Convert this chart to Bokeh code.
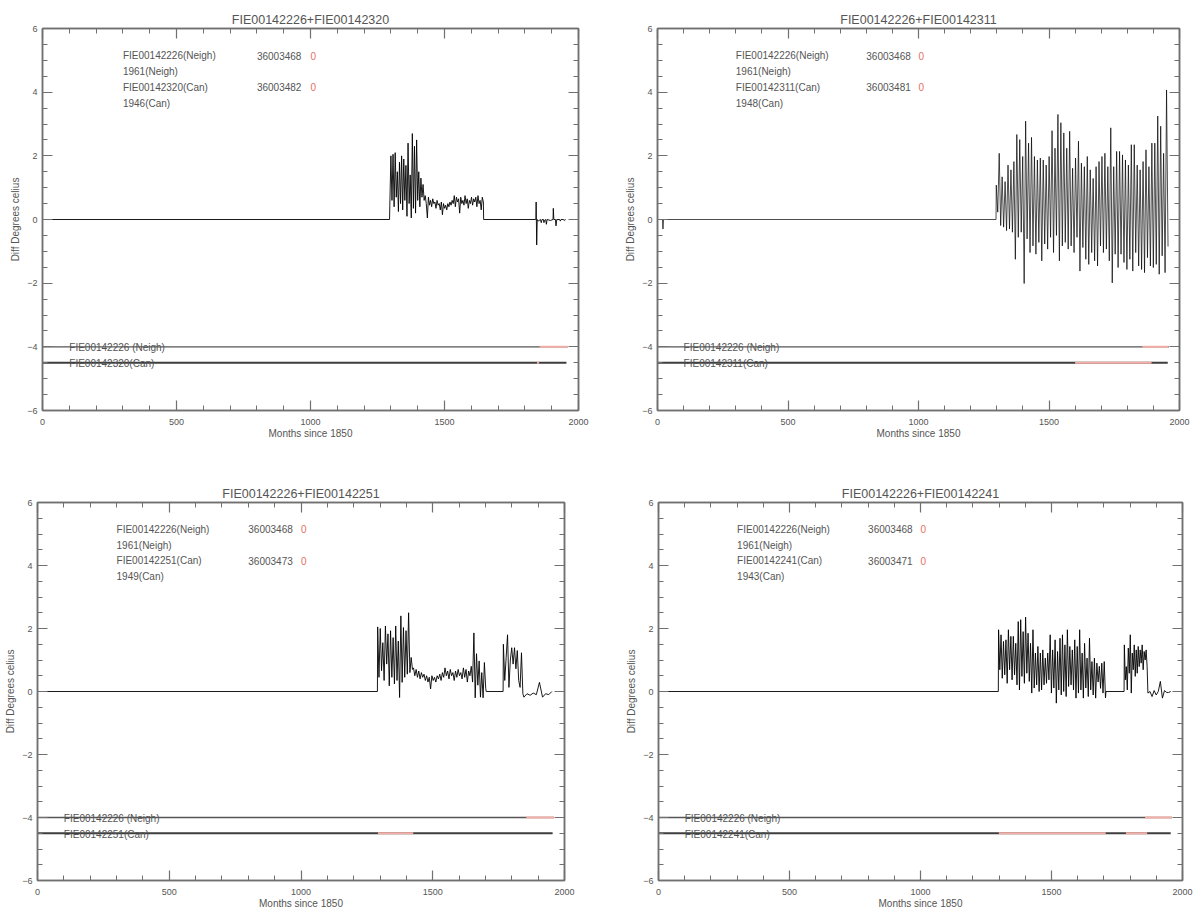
import numpy as np
from bokeh.plotting import figure
from bokeh.models import Range1d, FixedTicker, LinearAxis, ColumnDataSource
from bokeh.layouts import column, row
from bokeh.core.properties import value
from bokeh.embed import file_html
from bokeh.resources import INLINE

# ---------------- data ----------------
x_major = [0, 500, 1000, 1500, 2000]
x_minor = list(range(0, 2001, 100))
y_major = [-6, -4, -2, 0, 2, 4, 6]
y_minor = [k / 2 for k in range(-12, 13)]

neigh_id = "FIE00142226"
neigh_code = "36003468"
neigh_year = "1961"
neigh_flag = "0"
can_ids = ["FIE00142320", "FIE00142311", "FIE00142251", "FIE00142241"]
can_codes = ["36003482", "36003481", "36003473", "36003471"]
can_years = ["1946", "1948", "1949", "1943"]
can_flags = ["0", "0", "0", "0"]

# Panel 1  (FIE00142226+FIE00142320)
p1_spiky = [0.45, 2.0, 0.6, 2.05, 0.4, 2.1, 0.7, 1.5, 0.25, 1.8, 0.5, 2.0, 0.3, 1.9, 0.6, 1.7,
            0.1, 2.4, 0.5, 1.4, 0.05, 2.7, 0.35, 2.3, 0.2, 2.5, 0.6, 1.5, 0.4, 1.3, 0.7, 1.1, 0.6]
p1_band = [0.75, 0.5, 0.05, 0.7, 0.45, 0.6, 0.4, 0.65, 0.5, 0.55, 0.35, 0.6, 0.45, 0.5, 0.3, 0.55,
           0.15, 0.5, 0.35, 0.45, 0.3, 0.5, 0.4, 0.55, 0.45, 0.6, 0.5, 0.75, 0.4, 0.7, 0.55, 0.65,
           0.2, 0.7, 0.5, 0.6, 0.45, 0.75, 0.5, 0.65, 0.35, 0.6, 0.5, 0.7, 0.45, 0.65, 0.55, 0.7,
           0.4, 0.75, 0.5, 0.6, 0.3, 0.7, 0.55]
p1_tail_m = [1841, 1842, 1844, 1846, 1850, 1858, 1861, 1864, 1869, 1871, 1874, 1878, 1880, 1883,
             1895, 1905, 1906, 1908, 1914, 1916, 1919, 1930, 1932, 1935, 1944, 1946, 1952]
p1_tail_v = [0.0, 0.55, -0.8, 0.0, -0.05, 0.0, -0.1, 0.0, 0.0, -0.1, -0.02, 0.0, -0.15, 0.0,
             -0.03, 0.0, 0.35, 0.0, 0.0, -0.2, 0.0, 0.0, -0.05, 0.0, 0.0, -0.03, 0.0]
p1_neigh_red = [(1855, 1960)]
p1_can_red = [(1845, 1853)]

# Panel 2  (FIE00142226+FIE00142311)
p2_dip_m = [0, 19, 21, 23]
p2_dip_v = [0.0, 0.0, -0.3, 0.0]
p2_peaks = [1.08, 2.08, 1.34, 1.19, 1.71, 1.56, 1.82, 2.67, 2.51, 1.98,
            3.09, 2.40, 2.58, 1.98, 1.87, 1.93, 1.87, 1.71, 1.98, 2.79,
            2.24, 3.30, 3.04, 2.72, 2.24, 2.77, 1.61, 1.93, 2.46, 1.77,
            1.66, 1.98, 1.56, 1.29, 1.66, 1.82, 1.98, 2.08, 1.66, 2.88,
            1.66, 2.14, 2.14, 2.03, 1.87, 1.71, 2.35, 2.35, 1.71, 1.56,
            1.82, 2.19, 1.66, 2.40, 2.40, 3.25, 2.93, 2.08, 4.07]
p2_troughs = [0.23, -0.19, -0.24, -0.35, -0.30, -0.40, -1.25, -0.56, -0.40, -2.01,
              -0.61, -1.04, -0.83, -1.09, -0.72, -1.30, -0.77, -0.93, -0.56, -1.04,
              -0.50, -1.30, -0.83, -0.72, -0.93, -0.83, -1.04, -0.56, -1.62, -0.88, -1.25,
              -1.41, -1.04, -1.30, -1.46, -0.83, -1.04, -0.93, -1.30, -1.99, -1.09,
              -1.51, -1.09, -1.35, -1.57, -1.25, -1.62, -1.04, -1.46, -1.57, -1.67,
              -1.20, -1.46, -1.51, -1.41, -1.72, -1.14, -1.67, -0.85]
p2_neigh_red = [(1858, 1958)]
p2_can_red = [(1600, 1893)]

# Panel 3  (FIE00142226+FIE00142251)
p3_spiky = [2.05, 0.45, 2.0, 0.66, 1.55, 0.35, 2.08, 0.87, 1.83, 0.18, 1.93, 0.45, 1.71, 0.24,
            2.08, 0.35, 1.6, -0.19, 2.4, 0.29, 2.03, 0.45, 1.93, 0.55, 2.5, 0.6, 1.08, 0.7]
p3_band = [0.75, 0.5, 0.7, 0.45, 0.65, 0.4, 0.6, 0.45, 0.55, 0.35, 0.5, 0.3, 0.45, 0.08, 0.5,
           0.35, 0.45, 0.3, 0.5, 0.4, 0.55, 0.35, 0.6, 0.45, 0.75, 0.5, 0.65, 0.4, 0.7, 0.5,
           0.6, 0.35, 0.65, 0.45, 0.7, 0.5, 0.6, 0.4, 0.75, 0.45, 0.7, 0.3, 0.65, 0.5, 0.8,
           0.3, 1.86, -0.2, 1.2, 0.2, 0.97, -0.18, 0.6, -0.2, 0.92, 0.1]
p3_block = [1.5, 0.35, 1.08, 1.8, 0.13, 1.0, 1.39, 0.87, 1.39, 0.72, 1.3, 0.35, 0.13, 1.23, -0.07]
p3_tail = [-0.18, -0.07, -0.12, -0.05, -0.1, 0.29, -0.18, -0.07, -0.1, 0.0]
p3_neigh_red = [(1855, 1960)]
p3_can_red = [(1292, 1426)]

# Panel 4  (FIE00142226+FIE00142241)
p4_peaks = [1.96, 1.8, 1.59, 1.64, 1.96, 1.75, 1.75, 1.53, 2.22, 2.28,
            1.9, 2.36, 1.85, 1.53, 1.96, 1.22, 1.43, 1.22, 1.32, 1.06,
            1.22, 1.8, 1.32, 1.64, 1.27, 1.69, 1.8, 1.48, 1.96, 1.43,
            1.32, 1.64, 1.43, 1.96, 1.22, 1.53, 1.06, 1.69, 0.95, 1.06,
            0.9, 0.8, 0.9, 0.95]
p4_troughs = [0.69, 0.42, 0.53, 0.26, 0.69, 0.37, 0.53, 0.21, 0.05, 0.48,
              0.26, 0.58, 0.32, -0.05, 0.11, 0.21, 0.0, 0.05, 0.21, 0.26,
              0.37, -0.05, 0.11, -0.37, 0.05, -0.11, 0.0, -0.16, 0.16, 0.21,
              0.05, -0.21, -0.05, 0.05, -0.21, 0.11, -0.16, 0.05, -0.11, -0.21,
              0.3, 0.1, -0.05, -0.2]
p4_block_peaks = [1.48, 0.79, 1.38, 1.8, 1.22, 1.48, 1.32, 1.43, 1.32, 1.48, 1.27, 1.32]
p4_block_troughs = [0.37, 0.05, 0.58, -0.05, 0.69, 0.48, 0.58, 0.79, 0.9, 0.69, 1.0, 0.79]
p4_tail = [-0.05, 0.0, -0.16, 0.03, -0.11, 0.0, 0.32, -0.21, 0.03, -0.03, -0.03, 0.0]
p4_neigh_red = [(1857, 1960)]
p4_can_red = [(1299, 1707), (1784, 1865)]

neigh_span = (0, 1960)
can_span = (0, 1955)

# ---------------- helpers ----------------
def spread(start, end, vals):
    return list(np.linspace(start, end, len(vals))), list(vals)


def interleave(a, b):
    out = []
    for u, v in zip(a, b):
        out += [u, v]
    return out


def build(parts):
    m, v = [], []
    for pm, pv in parts:
        m += list(pm)
        v += list(pv)
    return m, v


s1 = build([([0, 1295], [0, 0]),
            spread(1296, 1424, p1_spiky),
            spread(1428, 1645, p1_band),
            ([1646, 1840], [0, 0]),
            (p1_tail_m, p1_tail_v)])
s2 = build([(p2_dip_m, p2_dip_v),
            ([1297], [0]),
            spread(1298, 1956, interleave(p2_peaks, p2_troughs))])
s3 = build([([0, 1290], [0, 0]),
            spread(1291, 1423, p3_spiky),
            spread(1427, 1701, p3_band),
            ([1703, 1767], [0, 0]),
            spread(1768, 1842, p3_block),
            spread(1846, 1952, p3_tail)])
s4 = build([([0, 1297], [0, 0]),
            spread(1298, 1706, interleave(p4_peaks, p4_troughs)),
            ([1708, 1777], [0, 0]),
            spread(1778, 1865, interleave(p4_block_peaks, p4_block_troughs)),
            spread(1868, 1955, p4_tail)])

TXT = "#555555"
AXC = "#707070"
RED = "#e4705f"
PINK = "#f4b0a8"
FONT = "Liberation Sans"


def style_axis(ax, show_labels):
    ax.axis_line_color = AXC
    ax.axis_line_width = 1.5
    ax.major_tick_line_color = AXC
    ax.minor_tick_line_color = AXC
    ax.major_tick_line_width = 1.2
    ax.minor_tick_line_width = 1
    ax.major_tick_in = 10
    ax.major_tick_out = 0
    ax.minor_tick_in = 5
    ax.minor_tick_out = 0
    if show_labels:
        ax.major_label_text_font = FONT
        ax.major_label_text_font_size = "9px"
        ax.major_label_text_color = TXT
        ax.axis_label_text_font = FONT
        ax.axis_label_text_font_size = "10px"
        ax.axis_label_text_font_style = "normal"
        ax.axis_label_text_color = TXT
    else:
        ax.major_label_text_font_size = "1px"
        ax.major_label_text_color = None
        ax.major_label_standoff = 0
        ax.axis_label = None


def make_panel(idx, series, neigh_red, can_red, w, h, bl, br, bt, bb, lw):
    can_id = can_ids[idx]
    p = figure(width=w, height=h, x_range=Range1d(0, 2000), y_range=Range1d(-6, 6),
               output_backend="svg", toolbar_location=None,
               min_border_left=bl, min_border_right=br, min_border_top=bt, min_border_bottom=bb,
               title=neigh_id + "+" + can_id,
               x_axis_label="Months since 1850", y_axis_label="Diff Degrees celius")
    p.grid.visible = False
    p.outline_line_color = AXC
    p.outline_line_width = 1.5
    p.title.align = "center"
    p.title.text_font = FONT
    p.title.text_font_size = "12.5px"
    p.title.text_font_style = "normal"
    p.title.text_color = TXT
    p.title.standoff = 4

    p.xaxis.ticker = FixedTicker(ticks=x_major, minor_ticks=x_minor)
    p.yaxis.ticker = FixedTicker(ticks=y_major, minor_ticks=y_minor)
    p.xaxis.major_label_standoff = 8
    p.xaxis.axis_label_standoff = 0
    p.yaxis.major_label_standoff = 5
    p.yaxis.axis_label_standoff = 3
    for ax in list(p.xaxis) + list(p.yaxis):
        style_axis(ax, True)
    top = LinearAxis(ticker=FixedTicker(ticks=x_major, minor_ticks=x_minor))
    right = LinearAxis(ticker=FixedTicker(ticks=y_major, minor_ticks=y_minor))
    style_axis(top, False)
    style_axis(right, False)
    p.add_layout(top, "above")
    p.add_layout(right, "right")

    # availability bars
    p.line(list(neigh_span), [-4, -4], line_color="#555555", line_width=1.4)
    p.line(list(can_span), [-4.5, -4.5], line_color="#3d3d3d", line_width=1.8)
    p.segment(x0=[a for a, b in neigh_red], x1=[b for a, b in neigh_red],
              y0=[-4] * len(neigh_red), y1=[-4] * len(neigh_red), line_color=PINK, line_width=2)
    p.segment(x0=[a for a, b in can_red], x1=[b for a, b in can_red],
              y0=[-4.5] * len(can_red), y1=[-4.5] * len(can_red), line_color=PINK, line_width=2)

    # difference series
    m, v = series
    p.line(m, v, line_color="black", line_width=lw)

    # text block
    src = ColumnDataSource(dict(
        x=[300, 800, 300, 300, 800, 300],
        y=[5.15, 5.15, 4.65, 4.15, 4.15, 3.65],
        t=[neigh_id + "(Neigh)", neigh_code, neigh_year + "(Neigh)",
           can_id + "(Can)", can_codes[idx], can_years[idx] + "(Can)"]))
    p.text(x="x", y="y", text="t", source=src, text_font=value(FONT),
           text_font_size=value("10px"), text_color=TXT, text_baseline="alphabetic")
    p.text(x=[1000, 1000], y=[5.15, 4.15], text=[neigh_flag, can_flags[idx]], text_font=value(FONT),
           text_font_size=value("10px"), text_color=RED, text_baseline="alphabetic")
    p.text(x=[100, 100], y=[-4, -4.5], text=[neigh_id + " (Neigh)", can_id + "(Can)"],
           text_font=value(FONT), text_font_size=value("10px"), text_color=TXT,
           text_baseline="alphabetic", y_offset=1)
    return p


# rows align their frames, so each row shares top/bottom borders
f1 = make_panel(0, s1, p1_neigh_red, p1_can_red, 615, 455, 42, 37, 28, 45, 0.9)
f2 = make_panel(1, s2, p2_neigh_red, p2_can_red, 585, 455, 42, 21, 28, 45, 0.7)
f3 = make_panel(2, s3, p3_neigh_red, p3_can_red, 616, 460, 37, 52, 47, 35, 0.9)
f4 = make_panel(3, s4, p4_neigh_red, p4_can_red, 584, 460, 42, 18, 47, 35, 0.9)

layout = column(row(f1, f2, spacing=0), row(f3, f4, spacing=0), spacing=0)
open("out.html", "w").write(file_html(layout, INLINE))
